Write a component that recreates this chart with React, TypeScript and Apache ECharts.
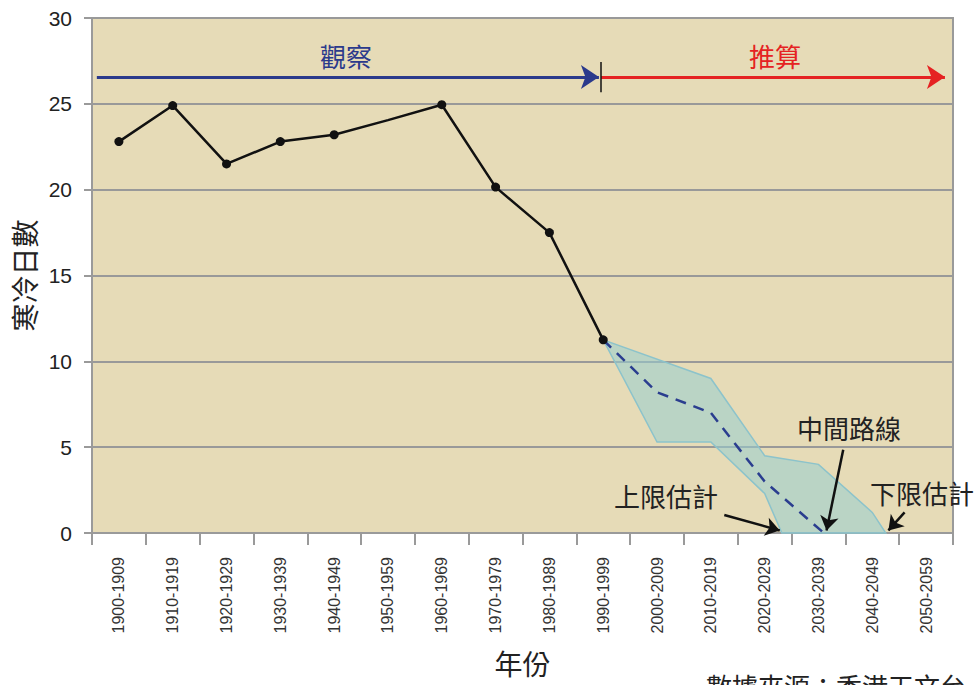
import React, { useEffect, useRef } from "react";
import * as echarts from "echarts";

const categories = [
  "1900-1909", "1910-1919", "1920-1929", "1930-1939", "1940-1949", "1950-1959",
  "1960-1969", "1970-1979", "1980-1989", "1990-1999", "2000-2009", "2010-2019",
  "2020-2029", "2030-2039", "2040-2049", "2050-2059",
];
// observed cold days per decade
const observed = [22.8, 24.9, 21.5, 22.8, 23.2, 24.05, 24.95, 20.15, 17.5, 11.25];
const observedMarker = [true, true, true, true, true, false, true, true, true, true];
// projection (x = category index)
const middlePath: [number, number][] = [[9, 11.25], [10, 8.2], [11, 7.0], [12, 3.0], [13.1, 0]];
const upperEdge: [number, number][] = [[9, 11.25], [11, 9.0], [12, 4.5], [13, 4.0], [14, 1.2], [14.25, 0]];
const lowerEdge: [number, number][] = [[9, 11.25], [10, 5.3], [11, 5.3], [12, 2.3], [12.32, 0], [14.25, 0]];
const yTicks = { min: 0, max: 30, interval: 5 };

const CJK = '"Noto Sans CJK TC", "Noto Sans CJK SC", sans-serif';
const NUM = '"Liberation Sans", Arial, sans-serif';

export default function App() {
  const ref = useRef<HTMLDivElement>(null);
  useEffect(() => {
    if (!ref.current) return;
    const chart = echarts.init(ref.current, undefined, { renderer: "svg" });
    const bandPolygon = [...upperEdge, ...lowerEdge.slice().reverse()];
    const arrowLine = (a: [number, number], b: [number, number], color: string, width: number, size: number, head = "arrow") => [
      { coord: a, symbol: "none", lineStyle: { color, width, type: "solid" } },
      { coord: b, symbol: head, symbolSize: size },
    ];
    chart.setOption({
      animation: false,
      backgroundColor: "#ffffff",
      grid: {
        left: 92, right: 23, top: 18, bottom: 152,
        outerBoundsMode: "none", containLabel: false,
        show: true, backgroundColor: "#e6dbb7", borderColor: "#9a9a9a", borderWidth: 2,
      },
      xAxis: [
        {
          type: "category",
          data: categories,
          boundaryGap: true,
          name: "年份",
          nameLocation: "middle",
          nameGap: 116,
          nameTextStyle: { fontFamily: CJK, fontSize: 28, color: "#222" },
          axisLine: { lineStyle: { color: "#9a9a9a", width: 2 } },
          axisTick: { show: true, length: 12, lineStyle: { color: "#9a9a9a", width: 2 } },
          axisLabel: {
            rotate: 90,
            interval: 0,
            margin: 24,
            color: "#333",
            fontFamily: NUM,
            fontSize: 16,
            width: 300,
            overflow: "none",
          },
        },
        {
          type: "value",
          min: -0.5,
          max: 15.5,
          show: false,
        },
      ],
      yAxis: {
        type: "value",
        min: yTicks.min,
        max: yTicks.max,
        interval: yTicks.interval,
        name: "寒冷日數",
        nameLocation: "middle",
        nameGap: 54,
        nameRotate: 90,
        nameTextStyle: { fontFamily: CJK, fontSize: 28, color: "#222" },
        axisLine: { show: true, onZero: false, lineStyle: { color: "#9a9a9a", width: 2 } },
        axisTick: { show: true, length: 8, lineStyle: { color: "#9a9a9a", width: 2 } },
        axisLabel: { fontFamily: NUM, fontSize: 21, color: "#222", margin: 20 },
        splitLine: { lineStyle: { color: "#999", width: 2 } },
      },
      series: [
        {
          type: "custom",
          xAxisIndex: 1,
          data: [[9, 11.25]],
          z: 2,
          silent: true,
          renderItem: (_params: any, api: any) => ({
            type: "polygon",
            shape: { points: bandPolygon.map((p) => api.coord(p)) },
            style: { fill: "rgba(150,205,210,0.55)", stroke: "#8cc3cb", lineWidth: 1.5 },
          }),
        },
        {
          type: "line",
          xAxisIndex: 1,
          data: middlePath,
          z: 3,
          symbol: "none",
          lineStyle: { color: "#2a3d8f", width: 2.5, type: [11, 8] },
          markLine: {
            silent: true,
            animation: false,
            label: { show: false },
            emphasis: { disabled: true },
            data: [
              arrowLine([-0.41, 26.56], [8.92, 26.56], "#2b3a8c", 3, 18),
              arrowLine([8.96, 26.56], [15.35, 26.56], "#e52222", 3, 18),
              arrowLine([8.96, 27.43], [8.96, 25.68], "#111", 1.5, 1, "none"),
              arrowLine([13.46, 4.85], [13.15, 0.15], "#111", 2.5, 14),
              arrowLine([11.25, 1.05], [12.28, 0.15], "#111", 2.5, 14),
              arrowLine([14.6, 1.2], [14.3, 0.15], "#111", 2.5, 14),
            ],
          },
        },
        {
          type: "line",
          xAxisIndex: 0,
          z: 4,
          data: observed.map((v, i) => ({ value: v, symbol: observedMarker[i] ? "circle" : "none" })),
          symbolSize: 9,
          itemStyle: { color: "#111" },
          lineStyle: { color: "#111", width: 2.5 },
        },
      ],
      graphic: [
        { type: "text", left: 320, top: 42, style: { text: "觀察", font: `26px ${CJK}`, fill: "#2b3a8c" } },
        { type: "text", left: 749, top: 42, style: { text: "推算", font: `26px ${CJK}`, fill: "#e52222" } },
        { type: "text", left: 797, top: 414, style: { text: "中間路線", font: `26px ${CJK}`, fill: "#222" } },
        { type: "text", left: 614, top: 482, style: { text: "上限估計", font: `26px ${CJK}`, fill: "#222" } },
        { type: "text", left: 870, top: 479, style: { text: "下限估計", font: `26px ${CJK}`, fill: "#222" } },
        { type: "text", left: 706, top: 672, style: { text: "數據來源：香港天文台", font: `26px ${CJK}`, fill: "#222" } },
      ],
    });
    return () => chart.dispose();
  }, []);
  return <div ref={ref} style={{ position: "fixed", left: 0, top: 0, width: 976, height: 685 }} />;
}
